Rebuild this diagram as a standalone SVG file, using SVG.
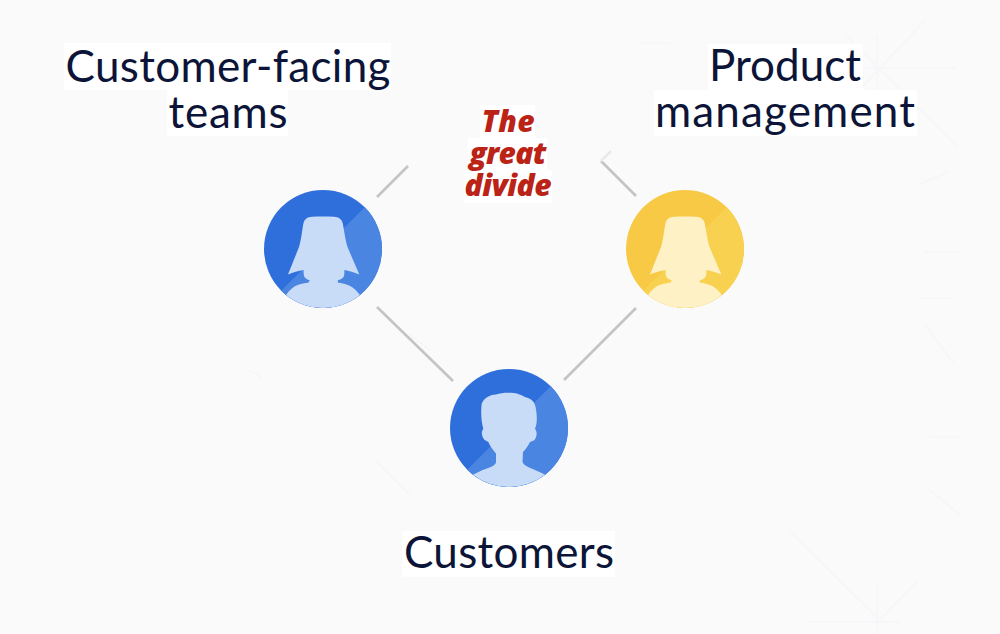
<svg xmlns="http://www.w3.org/2000/svg" width="1000" height="634" viewBox="0 0 1000 634">
<style>
.bg{fill:#fafafb}
.plate{fill:#fff}
.lbl{font-family:Lato,"Noto Sans",sans-serif;font-size:44px;fill:#0c1538;text-anchor:middle}
.red{font-family:"Open Sans","Noto Sans",sans-serif;font-size:30px;font-weight:800;font-style:italic;fill:#bb2316;text-anchor:middle}
.conn{stroke:#c4c4c4;stroke-width:2.6;fill:none}
.deco{stroke:#f5f6f9;stroke-width:1.500;fill:none}
.d{fill:#2f6fdc}.l{fill:#4a86e1}.s{fill:#c8dcf7}
.yd{fill:#f8c945}.yl{fill:#f8d150}.ys{fill:#fdf1c5}
</style>
<defs>
<clipPath id="cc"><circle r="59"/></clipPath>
<path id="long" d="M-36.900 46.100C-33.500 41 -30 38 -26 36.300C-22 34.800 -18 34 -14.300 33.500L-13.300 31.300C-15.500 30.500 -17.500 29.500 -18.700 27.700C-19.500 25.500 -19.600 23 -19.300 21C-24.500 21.800 -30 23.500 -35 25.500L-24 -2C-22 -8 -21 -18 -19.600 -25.500C-18.600 -29.800 -15.500 -32 -11 -32.200C-4 -32.600 4 -32.600 11 -32.200C15.500 -32 18.800 -29.800 19.800 -25.500C21.200 -18 22.500 -8 24.500 -2L36.300 25.500C31 23.500 26 21.800 21.300 21C21.500 23 21.500 25.500 20.700 27.700C19.500 29.500 17 30.500 15 31.300L14.700 33.500C19 34 23 35 27.300 37C31 39 34 42 36.900 46.100A59 59 0 0 1 -36.900 46.100Z"/>
<path id="short" d="M-36 46.750C-30 43.500 -24 41 -17 38.500C-14 37 -13 35 -13 34L-13 25.500C-16 22 -19 18 -20.700 14L-24.700 11.700C-27.500 8 -28 4 -25.700 0.700C-27.500 -6 -28.500 -15 -27.300 -24.300C-25 -30 -20 -33 -13 -33.500C-8 -35 -3 -35.500 5 -35C9 -34.500 12 -33 16 -31C23 -29 27 -27 27.700 -12.700C28 -6 27.500 -3 26 0.700C28.500 4 28 9 25.300 12.300L21 14C19 18 16 22 14 24L13.500 34C14 36 17 38 20 39.500C25 41.500 30 43.500 36 46.750A59 59 0 0 1 -36 46.750Z"/>
</defs>
<rect class="bg" width="1000" height="634"/>
<g id="decor">
<path class="deco" d="M877 35V105M860 68H955M845 35L957 147M925 20L880 68L845 105M640 43H670M948 172L920 184M790 532L880 620M877 583V634M807 622H900M880 620L918 580M925 252H960M920 298H950M925 325L955 365M930 437H960M930 490L960 515M375 460L410 495M410 335L430 350M250 370L262 378"/>
</g>
<g id="connectors">
<path class="conn" d="M377 197L408 166"/>
<path class="conn" d="M377 307L453 381"/>
<path class="conn" d="M636 196L601 161"/>
<path class="conn" d="M636 308L564 380"/>
<path d="M601 161L611 151" stroke="#e9e9ed" stroke-width="2.500" fill="none"/>
</g>
<g id="node-customer-facing" transform="translate(323 249)">
<circle class="d" r="59"/>
<path class="l" clip-path="url(#cc)" d="M42 -42L-42 42L-42 70L70 70L70 -42Z"/>
<use href="#long" class="s"/>
</g>
<g id="node-product" transform="translate(685 249)">
<circle class="yd" r="59"/>
<path class="yl" clip-path="url(#cc)" d="M42 -42L-42 42L-42 70L70 70L70 -42Z"/>
<use href="#long" class="ys"/>
</g>
<g id="node-customers" transform="translate(509 428)">
<circle class="d" r="59"/>
<path class="l" clip-path="url(#cc)" d="M42 -42L-42 42L-42 70L70 70L70 -42Z"/>
<use href="#short" class="s"/>
</g>
<g id="label-customer-facing">
<rect class="plate" x="64" y="43" width="327" height="47"/>
<rect class="plate" x="167" y="90" width="121" height="46"/>
<text class="lbl" x="228" y="82" textLength="325">Customer-facing</text>
<text class="lbl" x="228" y="128" textLength="119">teams</text>
</g>
<g id="label-product">
<rect class="plate" x="708" y="44" width="155" height="46"/>
<rect class="plate" x="654" y="90" width="263" height="46"/>
<text class="lbl" x="785" y="81" textLength="152">Product</text>
<text class="lbl" x="785" y="127" textLength="260">management</text>
</g>
<g id="label-customers">
<rect class="plate" x="402" y="531" width="213" height="46"/>
<text class="lbl" x="509" y="568" textLength="210">Customers</text>
</g>
<g id="label-divide">
<rect class="plate" x="480" y="105" width="55" height="33"/>
<rect class="plate" x="468" y="138" width="79" height="32"/>
<rect class="plate" x="464" y="170" width="88" height="33"/>
<text class="red" x="508" y="132" textLength="53">The</text>
<text class="red" x="508" y="164" textLength="77">great</text>
<text class="red" x="508" y="196" textLength="87">divide</text>
</g>
</svg>
